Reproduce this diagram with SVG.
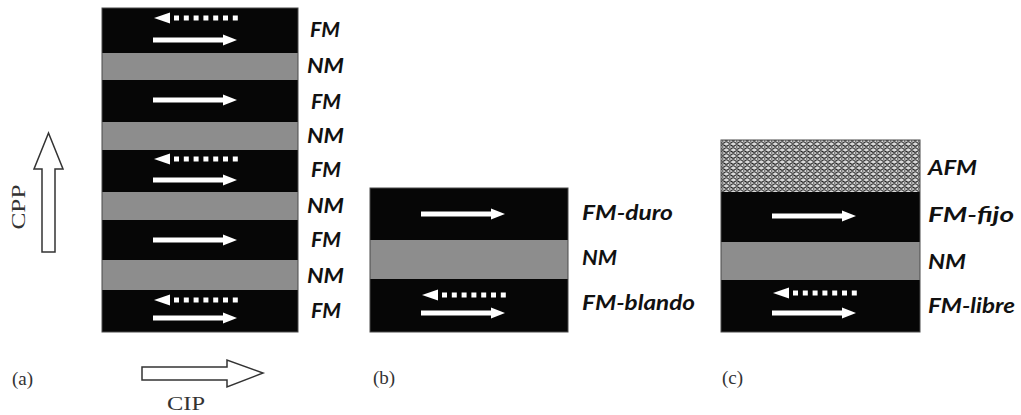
<svg xmlns="http://www.w3.org/2000/svg" width="1021" height="415" viewBox="0 0 1021 415">
<style>
.fm{fill:#060606}
.nm{fill:#8d8d8d}
.lbl{font-family:Lato,"Open Sans","Liberation Sans",sans-serif;font-weight:bold;font-style:italic;font-size:20px;fill:#111}
.cap{font-family:"Liberation Serif",serif;font-size:19px;fill:#333}
.big{fill:#fff;stroke:#333;stroke-width:1.5;stroke-linejoin:miter}
.edge{fill:none;stroke:#4a4a4a;stroke-width:1}
</style>
<defs>
<g id="solid">
<rect x="0" y="-2.5" width="72" height="5" fill="#fff"/>
<polygon points="70,-5.5 84,0 70,5.5" fill="#fff"/>
</g>
<g id="dashed" fill="#fff">
<polygon points="1,0 17,-5.5 17,5.5"/>
<rect x="21" y="-2.5" width="5" height="5"/>
<rect x="30.8" y="-2.5" width="5" height="5"/>
<rect x="40.6" y="-2.5" width="5" height="5"/>
<rect x="50.4" y="-2.5" width="5" height="5"/>
<rect x="60.2" y="-2.5" width="5" height="5"/>
<rect x="70" y="-2.5" width="5" height="5"/>
<rect x="79.8" y="-2.5" width="5" height="5"/>
</g>
<pattern id="afmTex" x="0" y="0" width="7" height="6" patternUnits="userSpaceOnUse">
<rect width="7" height="6" fill="#d9d9d9"/>
<path d="M0,1.5 Q1.75,0 3.5,1.5 T7,1.5" stroke="#1e1e1e" stroke-width="1.2" fill="none"/>
<path d="M0,4.5 Q1.75,6 3.5,4.5 T7,4.5" stroke="#333" stroke-width="1.1" fill="none"/>
<circle cx="1.75" cy="3" r="0.8" fill="#3a3a3a"/>
<circle cx="5.25" cy="3" r="0.7" fill="#555"/>
</pattern>
</defs>

<!-- Panel (a) -->
<g id="panel-a">
<g id="a-fm1"><rect class="fm" x="102" y="8" width="196" height="45"/><use href="#dashed" x="153" y="18"/><use href="#solid" x="153" y="40"/><text class="lbl" x="310" y="37" textLength="30" lengthAdjust="spacingAndGlyphs">FM</text></g>
<g id="a-nm1"><rect class="nm" x="102" y="53" width="196" height="27"/><text class="lbl" x="307" y="73" textLength="37" lengthAdjust="spacingAndGlyphs">NM</text></g>
<g id="a-fm2"><rect class="fm" x="102" y="80" width="196" height="42"/><use href="#solid" x="153" y="100"/><text class="lbl" x="311" y="109" textLength="30" lengthAdjust="spacingAndGlyphs">FM</text></g>
<g id="a-nm2"><rect class="nm" x="102" y="122" width="196" height="28"/><text class="lbl" x="307" y="143" textLength="37" lengthAdjust="spacingAndGlyphs">NM</text></g>
<g id="a-fm3"><rect class="fm" x="102" y="150" width="196" height="42"/><use href="#dashed" x="153" y="159"/><use href="#solid" x="153" y="180"/><text class="lbl" x="311" y="177" textLength="30" lengthAdjust="spacingAndGlyphs">FM</text></g>
<g id="a-nm3"><rect class="nm" x="102" y="192" width="196" height="28"/><text class="lbl" x="307" y="213" textLength="37" lengthAdjust="spacingAndGlyphs">NM</text></g>
<g id="a-fm4"><rect class="fm" x="102" y="220" width="196" height="40"/><use href="#solid" x="153" y="240"/><text class="lbl" x="311" y="247" textLength="30" lengthAdjust="spacingAndGlyphs">FM</text></g>
<g id="a-nm4"><rect class="nm" x="102" y="260" width="196" height="30"/><text class="lbl" x="307" y="283" textLength="37" lengthAdjust="spacingAndGlyphs">NM</text></g>
<g id="a-fm5"><rect class="fm" x="102" y="290" width="196" height="42"/><use href="#dashed" x="153" y="300"/><use href="#solid" x="153" y="318"/><text class="lbl" x="311" y="318" textLength="30" lengthAdjust="spacingAndGlyphs">FM</text></g>
<rect class="edge" x="102" y="8" width="196" height="324"/>
</g>

<g id="cpp-arrow">
<polygon class="big" points="42,252 55,252 55,169 63,169 48.5,133 34,169 42,169"/>
<text class="cap" transform="translate(25,207) rotate(-90)" text-anchor="middle" textLength="45" lengthAdjust="spacingAndGlyphs">CPP</text>
</g>
<g id="cip-arrow">
<polygon class="big" points="142,367 227,367 227,360 263,373 227,387 227,380 142,380"/>
<text class="cap" x="186" y="410" text-anchor="middle" textLength="38" lengthAdjust="spacingAndGlyphs">CIP</text>
</g>
<text class="cap" x="12" y="385">(a)</text>

<!-- Panel (b) -->
<g id="panel-b">
<g id="b-fm-duro"><rect class="fm" x="370" y="188" width="198" height="52"/><use href="#solid" x="421" y="214"/><text class="lbl" x="582" y="220" textLength="91" lengthAdjust="spacingAndGlyphs">FM-duro</text></g>
<g id="b-nm"><rect class="nm" x="370" y="240" width="198" height="39"/><text class="lbl" x="582" y="265" textLength="35" lengthAdjust="spacingAndGlyphs">NM</text></g>
<g id="b-fm-blando"><rect class="fm" x="370" y="279" width="198" height="53"/><use href="#dashed" x="421" y="295"/><use href="#solid" x="421" y="313"/><text class="lbl" x="582" y="310" textLength="113" lengthAdjust="spacingAndGlyphs">FM-blando</text></g>
<rect class="edge" x="370" y="188" width="198" height="144"/>
</g>
<text class="cap" x="373" y="384">(b)</text>

<!-- Panel (c) -->
<g id="panel-c">
<g id="c-afm"><rect x="721" y="140" width="199" height="52" fill="url(#afmTex)"/><text class="lbl" x="928" y="175" textLength="49" lengthAdjust="spacingAndGlyphs">AFM</text></g>
<g id="c-fm-fijo"><rect class="fm" x="721" y="192" width="199" height="50"/><use href="#solid" x="772" y="216"/><text class="lbl" x="928" y="222" textLength="86" lengthAdjust="spacingAndGlyphs">FM-fijo</text></g>
<g id="c-nm"><rect class="nm" x="721" y="242" width="199" height="38"/><text class="lbl" x="928" y="269" textLength="38" lengthAdjust="spacingAndGlyphs">NM</text></g>
<g id="c-fm-libre"><rect class="fm" x="721" y="280" width="199" height="52"/><use href="#dashed" x="772" y="293"/><use href="#solid" x="772" y="313"/><text class="lbl" x="928" y="313" textLength="87" lengthAdjust="spacingAndGlyphs">FM-libre</text></g>
<rect class="edge" x="721" y="140" width="199" height="192"/>
</g>
<text class="cap" x="722" y="384">(c)</text>
<g id="connectors"/>
</svg>
